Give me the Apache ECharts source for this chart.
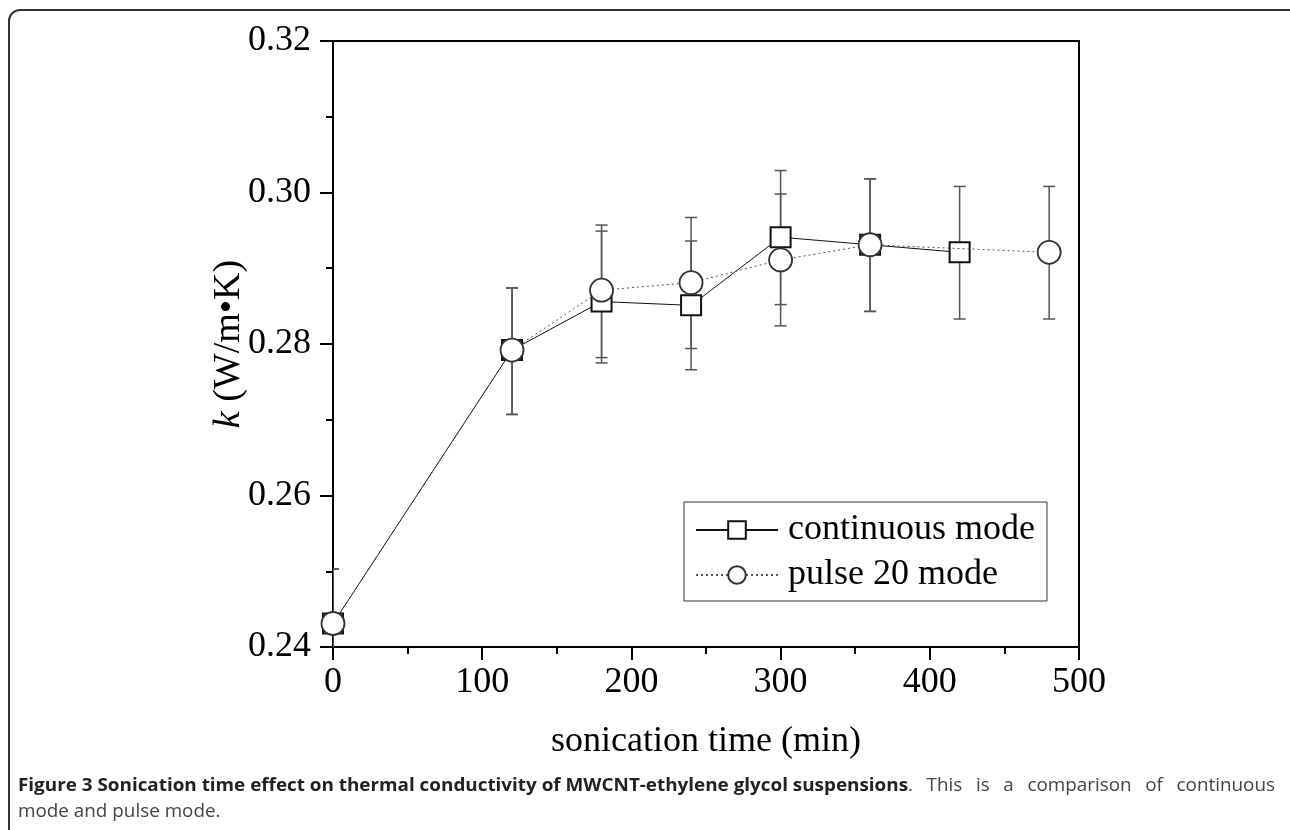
<!DOCTYPE html>
<html>
<head>
<meta charset="utf-8">
<script src="https://cdn.jsdelivr.net/npm/echarts@6/dist/echarts.min.js"></script>
<style>
html,body{margin:0;padding:0;background:#fff;}
#chart{width:1290px;height:830px;}
</style>
</head>
<body>
<div id="chart"></div>
<script>
// ---- data ----
const contTime  = [0, 120, 180, 240, 300, 360, 420];
const contK     = [0.2431, 0.2792, 0.2856, 0.2851, 0.2941, 0.2931, 0.2921];
const contLow   = [0.2358, 0.2707, 0.2782, 0.2766, 0.2824, 0.2843, 0.2833];
const contHigh  = [0.2503, 0.2874, 0.2949, 0.2967, 0.3029, 0.3018, 0.3008];

const pulseTime = [0, 120, 180, 240, 300, 360, 480];
const pulseK    = [0.2431, 0.2792, 0.2871, 0.2881, 0.2911, 0.2931, 0.2921];
const pulseLow  = [0.2358, 0.2707, 0.2775, 0.2794, 0.2852, 0.2843, 0.2833];
const pulseHigh = [0.2503, 0.2874, 0.2957, 0.2936, 0.2998, 0.3018, 0.3008];

const seriesNames = ['continuous mode', 'pulse 20 mode'];
const xTitle = 'sonication time (min)';
const captionBold = 'Figure 3 Sonication time effect on thermal conductivity of MWCNT-ethylene glycol suspensions';
const captionRest = ['.', 'This', 'is', 'a', 'comparison', 'of', 'continuous'];
const captionLine2 = 'mode and pulse mode.';

// ---- helpers ----
const serif = 'Liberation Serif';
const capFont = 'Open Sans';
const mctx = document.createElement('canvas').getContext('2d');
function measure(text, font) { mctx.font = font; return mctx.measureText(text).width; }

const pairs = (xs, ys) => xs.map((x, i) => [x, ys[i]]);
const errData = (xs, lo, hi) => xs.map((x, i) => [x, lo[i], hi[i]]);

function errorRender(params, api) {
  const x = api.value(0), lo = api.value(1), hi = api.value(2);
  const a = api.coord([x, hi]);
  const b = api.coord([x, lo]);
  const hw = 6;
  const st = { stroke: '#555', lineWidth: 1.5 };
  return {
    type: 'group',
    children: [
      { type: 'line', shape: { x1: a[0], y1: a[1], x2: b[0], y2: b[1] }, style: st },
      { type: 'line', shape: { x1: a[0] - hw, y1: a[1], x2: a[0] + hw, y2: a[1] }, style: st },
      { type: 'line', shape: { x1: b[0] - hw, y1: b[1], x2: b[0] + hw, y2: b[1] }, style: st }
    ]
  };
}

// ---- caption layout ----
const capSize = 18;
const boldFontStr = `bold ${capSize}px "${capFont}"`;
const normFontStr = `${capSize}px "${capFont}"`;
const capX0 = 18, capBoldEnd = 908, capX1 = 1275;
const sx = (capBoldEnd - capX0) / measure(captionBold, boldFontStr);
const capY1 = 786, capY2 = 812;
const graphics = [];
graphics.push({
  type: 'rect', silent: true,
  shape: { x: 9, y: 10, width: 1292, height: 900, r: 11 },
  style: { fill: 'none', stroke: '#333', lineWidth: 2 }
});
graphics.push({
  type: 'text', x: capX0, y: capY1, scaleX: sx,
  style: { text: captionBold, x: 0, y: 0, font: boldFontStr, fill: '#222', verticalAlign: 'middle' }
});
const restW = captionRest.map(t => measure(t, normFontStr) * sx);
const restSum = restW.reduce((a, b) => a + b, 0);
const gap = (capX1 - capBoldEnd - restSum) / (captionRest.length - 1);
let cx = capBoldEnd;
captionRest.forEach((t, i) => {
  graphics.push({
    type: 'text', x: cx, y: capY1, scaleX: sx,
    style: { text: t, x: 0, y: 0, font: normFontStr, fill: '#444', verticalAlign: 'middle' }
  });
  cx += restW[i] + gap;
});
graphics.push({
  type: 'text', x: capX0, y: capY2, scaleX: sx,
  style: { text: captionLine2, x: 0, y: 0, font: normFontStr, fill: '#444', verticalAlign: 'middle' }
});
// y axis title (italic k)
graphics.push({
  type: 'text', x: 229, y: 344, rotation: Math.PI / 2,
  style: {
    text: '{i|k} (W/m•K)', x: 0, y: 0, align: 'center', verticalAlign: 'middle',
    rich: {
      i: { fontFamily: serif, fontStyle: 'italic', fontSize: 38, fill: '#000' }
    },
    fontFamily: serif, fontSize: 38, fill: '#000'
  }
});

const chart = echarts.init(document.getElementById('chart'), null, { renderer: 'canvas' });
const axisCommon = {
  axisLine: { show: true, onZero: false, lineStyle: { color: '#000', width: 2 } },
  axisTick: { show: true, inside: false, length: 13, lineStyle: { color: '#000', width: 2 } },
  minorTick: { show: true, splitNumber: 2, length: 7, lineStyle: { color: '#000', width: 2 } },
  splitLine: { show: false },
  minorSplitLine: { show: false }
};
chart.setOption({
  animation: false,
  backgroundColor: '#fff',
  grid: {
    left: 333, right: 211, top: 41, bottom: 183,
    show: true, borderColor: '#000', borderWidth: 2, backgroundColor: 'transparent'
  },
  legend: {
    data: [
      { name: seriesNames[0] },
      { name: seriesNames[1] }
    ],
    orient: 'vertical',
    left: 684, top: 502,
    itemWidth: 82, itemHeight: 22, itemGap: 9,
    padding: [10, 12, 8, 11],
    borderColor: '#333', borderWidth: 1,
    textStyle: { fontFamily: serif, fontSize: 36, color: '#000', lineHeight: 36, padding: [0, 0, 0, 5] }
  },
  xAxis: Object.assign({
    type: 'value', min: 0, max: 500, interval: 100,
    axisLabel: { fontFamily: serif, fontSize: 36, color: '#000', margin: 18 },
    name: xTitle, nameLocation: 'middle', nameGap: 77,
    nameTextStyle: { fontFamily: serif, fontSize: 36, color: '#000' }
  }, axisCommon),
  yAxis: Object.assign({
    type: 'value', min: 0.24, max: 0.32, interval: 0.02,
    axisLabel: { fontFamily: serif, fontSize: 36, color: '#000', margin: 22, formatter: v => v.toFixed(2) }
  }, axisCommon),
  series: [
    {
      name: 'err-cont', type: 'custom', renderItem: errorRender, clip: true, z: 1,
      data: errData(contTime, contLow, contHigh), encode: { x: 0, y: [1, 2] }, silent: true
    },
    {
      name: 'err-pulse', type: 'custom', renderItem: errorRender, clip: true, z: 1,
      data: errData(pulseTime, pulseLow, pulseHigh), encode: { x: 0, y: [1, 2] }, silent: true
    },
    {
      name: seriesNames[0], type: 'line', z: 3,
      data: pairs(contTime, contK),
      symbol: 'rect', symbolSize: 20,
      lineStyle: { color: '#111', width: 1, type: 'solid' },
      itemStyle: { color: '#fff', borderColor: '#111', borderWidth: 2 }
    },
    {
      name: seriesNames[1], type: 'line', z: 4,
      data: pairs(pulseTime, pulseK),
      symbol: 'circle', symbolSize: 23,
      lineStyle: { color: '#555', width: 1, type: [2, 3] },
      itemStyle: { color: '#fff', borderColor: '#333', borderWidth: 1.8 }
    }
  ],
  graphic: graphics
});
</script>
</body>
</html>
